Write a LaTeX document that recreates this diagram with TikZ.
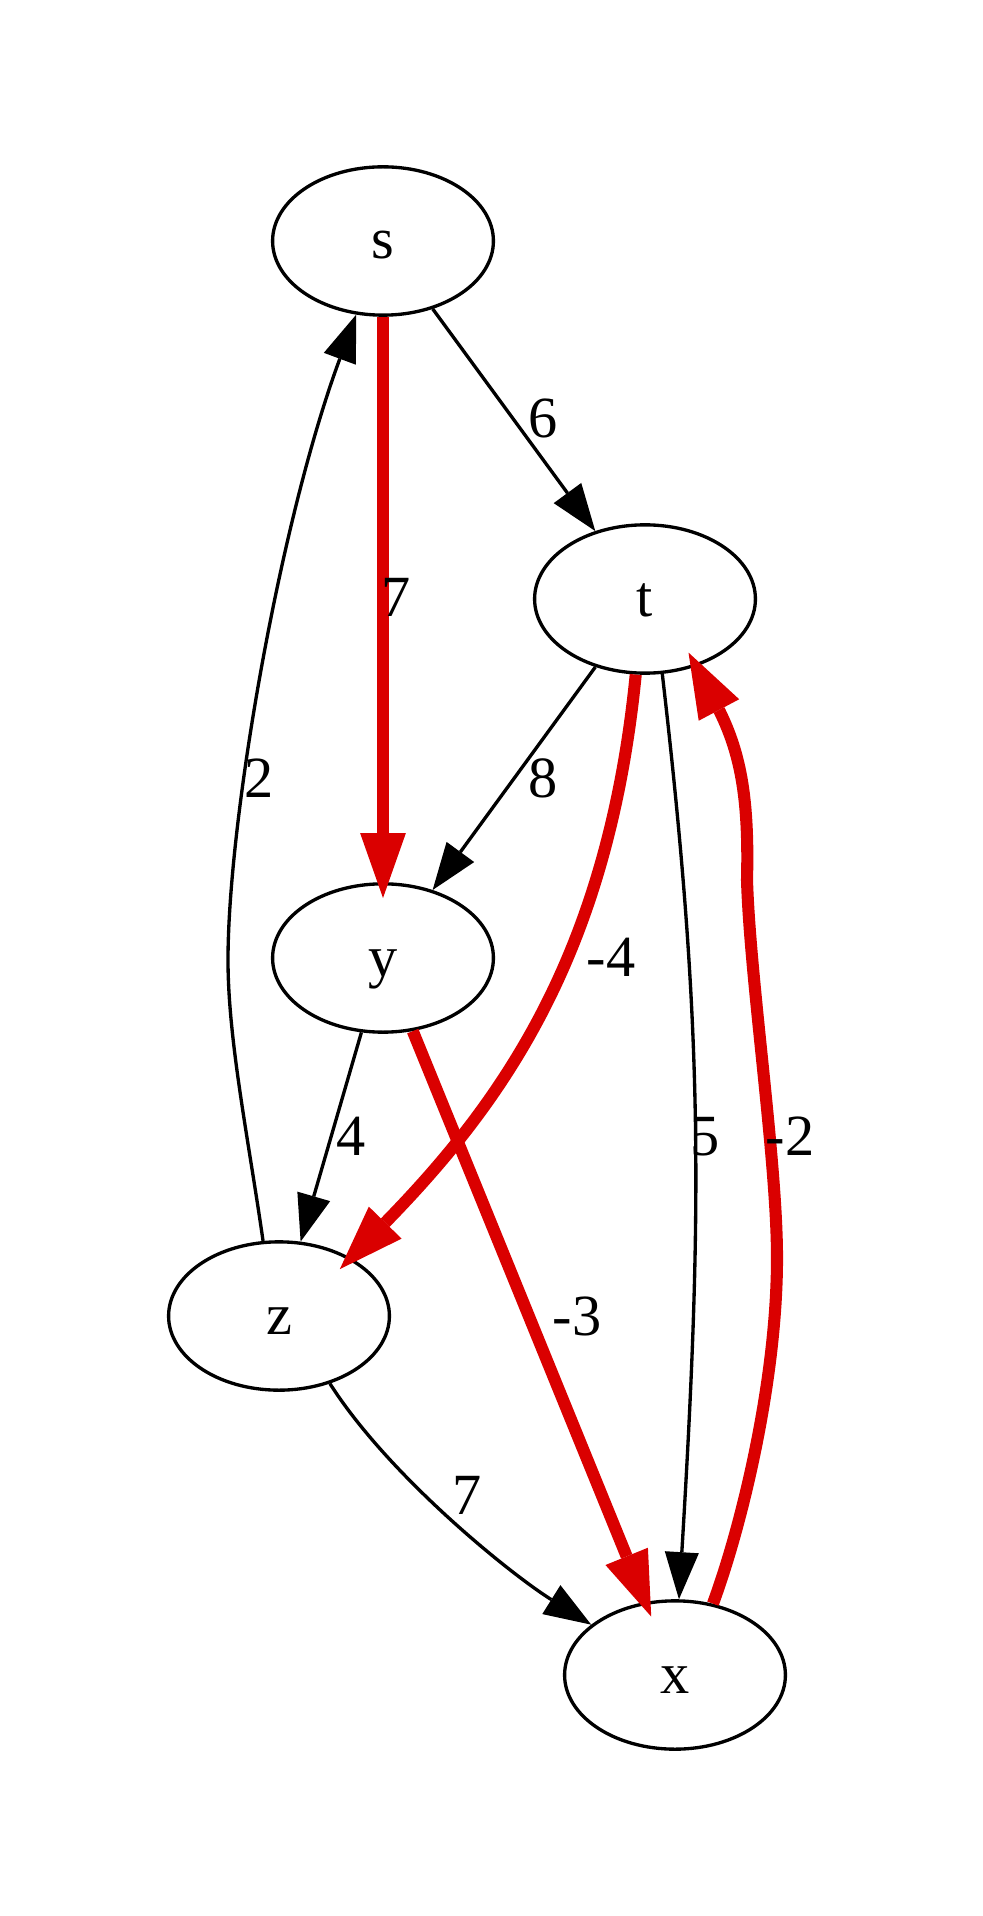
\documentclass[tikz,border=0pt]{standalone}
\usepackage{fontspec}
\setmainfont{Liberation Serif}
\usetikzlibrary{arrows.meta,shapes.geometric}
\definecolor{edgered}{RGB}{218,0,0}
\begin{document}
\begin{tikzpicture}[x=0.24pt,y=-0.24pt,
  vertex/.style={draw=black,line width=0.8pt,ellipse,minimum width=53pt,minimum height=35.6pt,inner sep=0pt,text height=8.64pt,text depth=0pt,font=\fontsize{14}{17}\selectfont},
  elabel/.style={anchor=base,inner sep=0pt,font=\fontsize{14}{17}\selectfont},
  plain/.style={draw=black,line width=0.8pt,-{Triangle[length=11.3pt,width=8.2pt,line width=0pt]}},
  hot/.style={draw=edgered,line width=2.9pt,-{Triangle[length=15.6pt,width=11pt,line width=0pt]},shorten >=-3.8pt}
]
\fill[white] (0,0) rectangle (983,1916);
\useasboundingbox (0,0) rectangle (983,1916);

\node[vertex] (s) at (383,241) {s};
\node[vertex] (t) at (645,599) {t};
\node[vertex] (y) at (383,958) {y};
\node[vertex] (z) at (279,1316) {z};
\node[vertex] (x) at (675,1675) {x};

\draw[plain] (s) -- (t);
\draw[hot] (s) -- (y);
\draw[plain] (z.102) .. controls (248.6,1140) and (228,1040) .. (228,960) .. controls (228,820) and (280,520) .. (s.-110);
\draw[plain] (t) -- (y);
\draw[hot] (t.-97) .. controls (608,955) and (502,1103) .. (z.39.6);
\draw[plain] (t.-77) .. controls (703,1025) and (703,1203) .. (x.87);
\draw[hot] (x.62.5) .. controls (742,1525) and (777,1380) .. (777,1258) .. controls (777,1160) and (750,980) .. (747,880) .. controls (749,800) and (741,755) .. (720,712) -- (t.-53);
\draw[plain] (y) -- (z);
\draw[hot] (y) -- (x);
\draw[plain] (z.-53.5) .. controls (388,1475) and (509,1573) .. (x.149.7);

\node[elabel] (l6) at (543,438) {6};
\node[elabel] (l7a) at (396,617) {7};
\node[elabel] (l2) at (259,797) {2};
\node[elabel] (l8) at (543,797) {8};
\node[elabel] (lm4) at (611,976) {-4};
\node[elabel] (l4) at (351,1155) {4};
\node[elabel] (l5) at (705,1155) {5};
\node[elabel] (lm2) at (790,1155) {-2};
\node[elabel] (lm3) at (577,1335) {-3};
\node[elabel] (l7b) at (467,1514) {7};
\end{tikzpicture}
\end{document}
